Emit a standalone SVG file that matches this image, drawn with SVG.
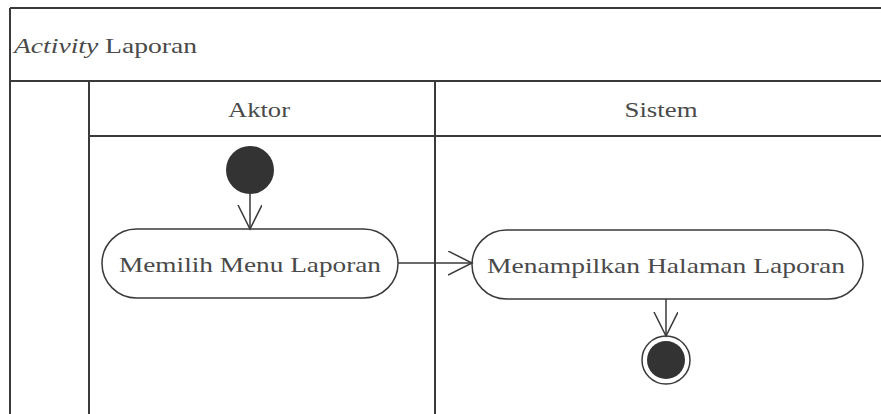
<svg xmlns="http://www.w3.org/2000/svg" width="881" height="414" viewBox="0 0 881 414">
<style>
.frame{stroke:#3a3a3a;stroke-width:2;fill:none}
.edge{stroke:#3a3a3a;stroke-width:1.5;fill:none}
.act{stroke:#3a3a3a;stroke-width:1.5;fill:#fff}
.t{font-family:'Liberation Serif','Times New Roman',serif;fill:#4a4a4a;font-size:22px}
</style>
<defs>
<marker id="open" markerWidth="30" markerHeight="30" refX="24" refY="12" orient="auto" markerUnits="userSpaceOnUse">
<path d="M0,0 L24,12 L0,24" fill="none" stroke="#3a3a3a" stroke-width="1.5"/>
</marker>
</defs>
<rect width="881" height="414" fill="#fff"/>
<g id="frame">
<line class="frame" x1="10" y1="8" x2="881" y2="8"/>
<line class="frame" x1="10" y1="8" x2="10" y2="414"/>
<line class="frame" x1="10" y1="81" x2="881" y2="81"/>
<line class="frame" x1="89" y1="81" x2="89" y2="414"/>
<line class="frame" x1="435" y1="81" x2="435" y2="414"/>
<line class="frame" x1="89" y1="136" x2="881" y2="136"/>
<text class="t" x="14" y="53" textLength="183" lengthAdjust="spacingAndGlyphs"><tspan font-style="italic">Activity</tspan> Laporan</text>
<text class="t" x="259" y="117" text-anchor="middle" textLength="62" lengthAdjust="spacingAndGlyphs">Aktor</text>
<text class="t" x="661" y="117" text-anchor="middle" textLength="73" lengthAdjust="spacingAndGlyphs">Sistem</text>
</g>
<g id="start">
<circle cx="250" cy="170" r="24" fill="#333"/>
</g>
<g id="act1">
<rect class="act" x="102" y="229" width="296" height="69" rx="34.5"/>
<text class="t" x="250" y="272" text-anchor="middle" textLength="262" lengthAdjust="spacingAndGlyphs">Memilih Menu Laporan</text>
</g>
<g id="act2">
<rect class="act" x="472" y="230" width="391" height="69" rx="34.5"/>
<text class="t" x="666" y="273" text-anchor="middle" textLength="358" lengthAdjust="spacingAndGlyphs">Menampilkan Halaman Laporan</text>
</g>
<g id="end">
<circle cx="666" cy="360" r="24" fill="#fff" stroke="#3a3a3a" stroke-width="1.5"/>
<circle cx="666" cy="360" r="19" fill="#333"/>
</g>
<g id="connectors">
<line class="edge" x1="250" y1="194" x2="250" y2="229" marker-end="url(#open)"/>
<line class="edge" x1="398" y1="263" x2="472" y2="263" marker-end="url(#open)"/>
<line class="edge" x1="666" y1="299" x2="666" y2="336" marker-end="url(#open)"/>
</g>
</svg>
